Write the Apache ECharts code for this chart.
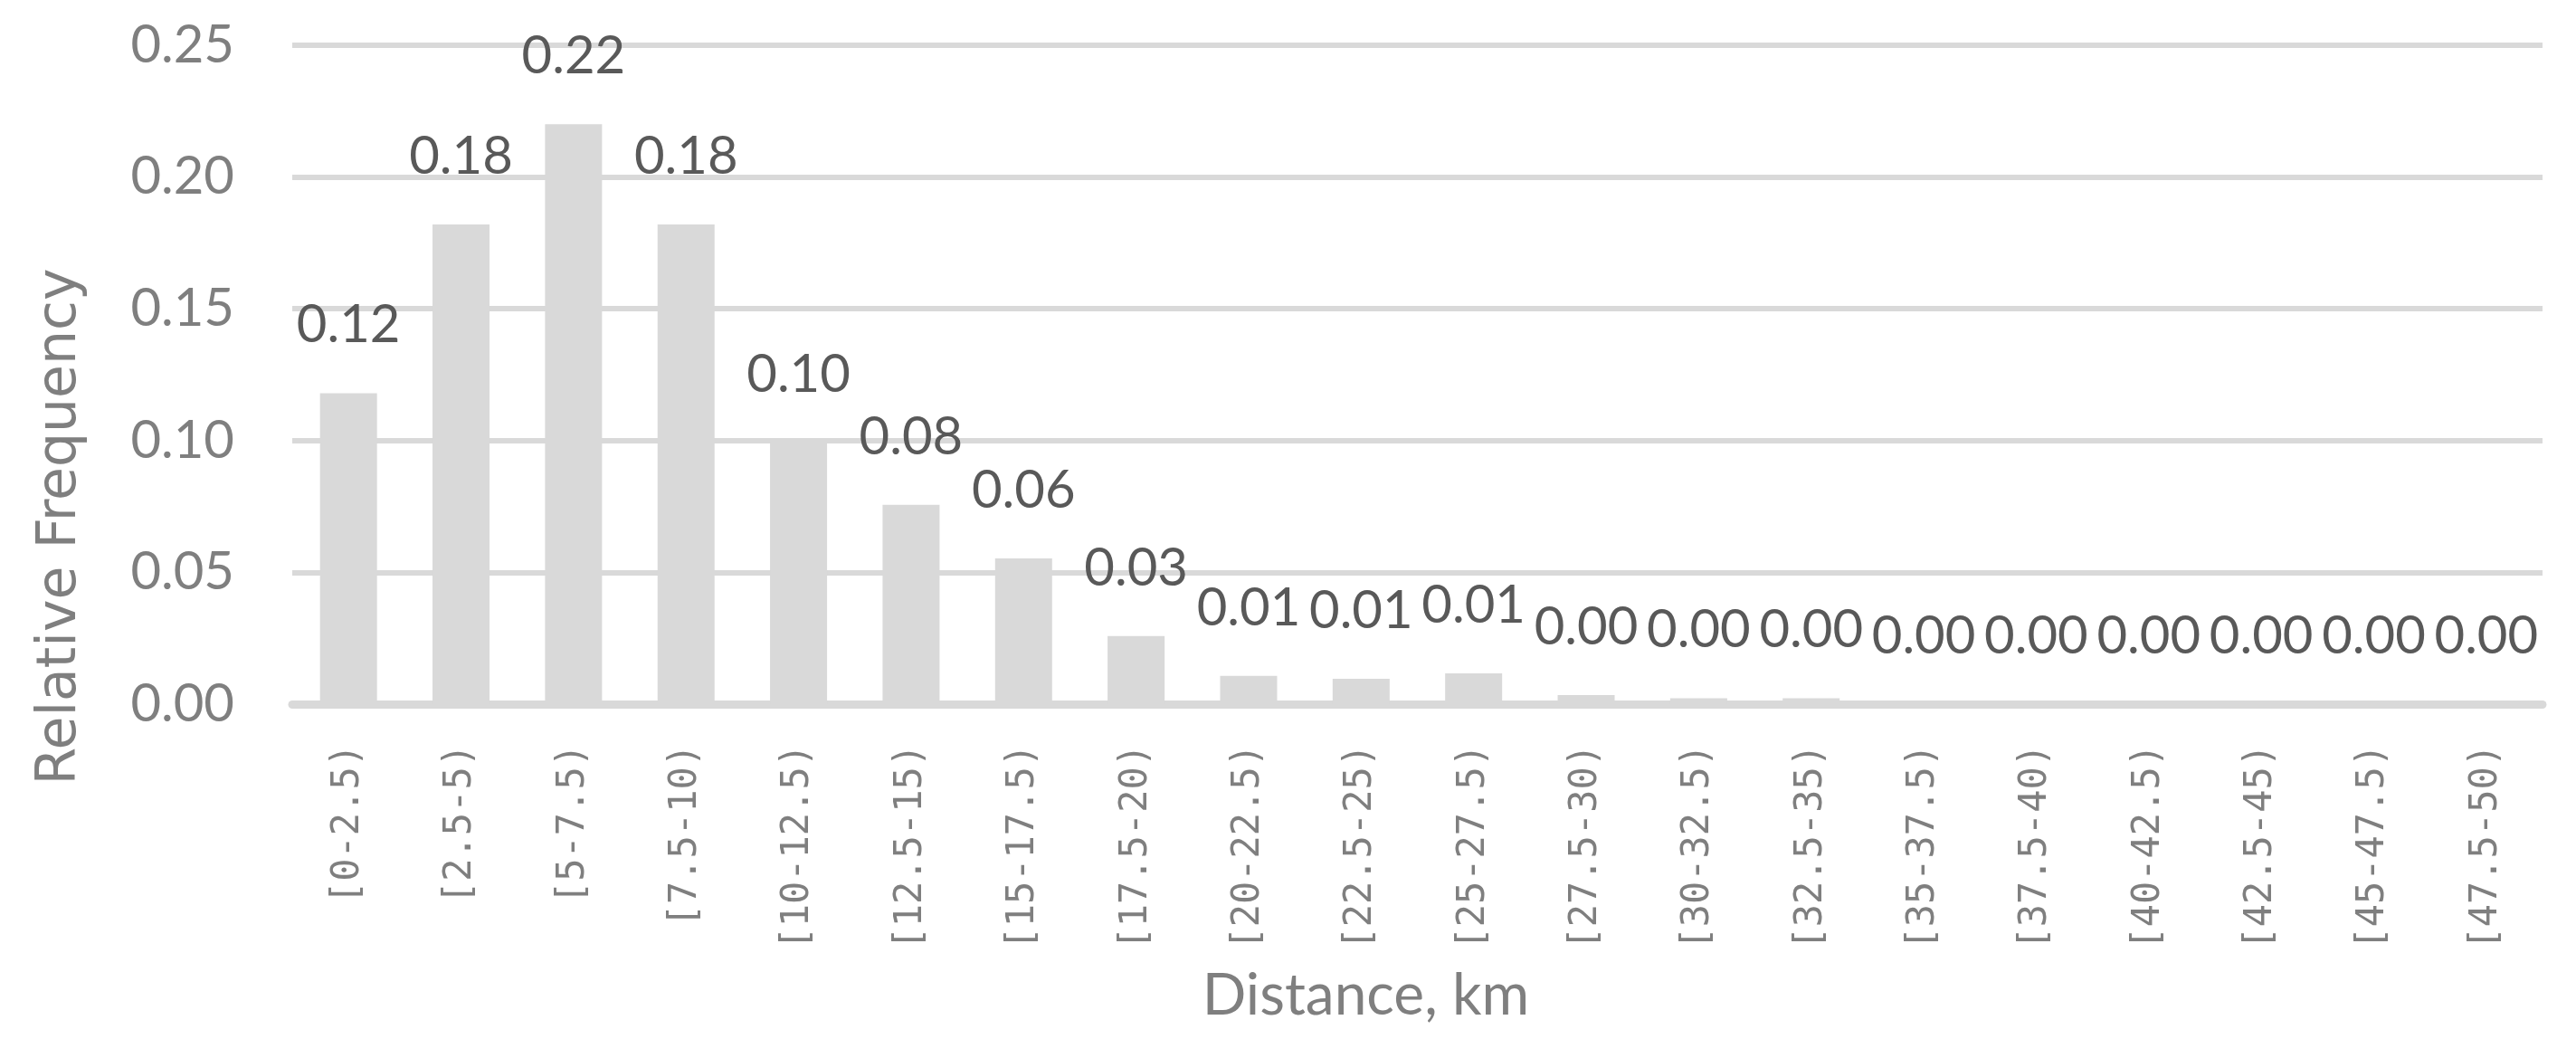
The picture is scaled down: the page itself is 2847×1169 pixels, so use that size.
<!DOCTYPE html>
<html>
<head>
<meta charset="utf-8">
<title>Relative Frequency by Distance</title>
<script src="https://cdn.jsdelivr.net/npm/echarts@6/dist/echarts.min.js"></script>
<style>
  html, body { margin: 0; padding: 0; background: #fff; }
  #chart { width: 2847px; height: 1169px; }
</style>
</head>
<body>
<div id="chart"></div>
<script>
// distance bins (km)
var categories = ['[0-2.5)', '[2.5-5)', '[5-7.5)', '[7.5-10)', '[10-12.5)', '[12.5-15)',
  '[15-17.5)', '[17.5-20)', '[20-22.5)', '[22.5-25)', '[25-27.5)', '[27.5-30)',
  '[30-32.5)', '[32.5-35)', '[35-37.5)', '[37.5-40)', '[40-42.5)', '[42.5-45)',
  '[45-47.5)', '[47.5-50)'];
// relative frequency
var relFreq = [0.118, 0.182, 0.220, 0.182, 0.099, 0.0756, 0.0553, 0.0258, 0.0107, 0.0096,
  0.0117, 0.0034, 0.0022, 0.0022, 0, 0, 0, 0, 0, 0];
var yTicks = [0, 0.05, 0.10, 0.15, 0.20, 0.25];

var gray = '#7f7f7f';
var chart = echarts.init(document.getElementById('chart'));

chart.setOption({
  animation: false,
  backgroundColor: '#ffffff',
  grid: { left: 323, right: 37, top: 50, bottom: 391, containLabel: false, outerBoundsMode: 'none' },
  xAxis: {
    type: 'category',
    data: categories,
    name: 'Distance, km',
    nameLocation: 'middle',
    nameGap: 290,
    nameTextStyle: { fontFamily: 'Lato', fontSize: 64, color: gray, padding: [0, 114, 0, 0] },
    axisLine: { lineStyle: { color: '#d9d9d9', width: 9 } },
    axisTick: { show: false },
    axisLabel: {
      interval: 0,
      rotate: 90,
      margin: 44,
      fontFamily: 'DejaVu Sans Mono',
      fontSize: 42,
      color: gray
    }
  },
  yAxis: {
    type: 'value',
    min: yTicks[0],
    max: yTicks[yTicks.length - 1],
    interval: 0.05,
    name: 'Relative Frequency',
    nameLocation: 'middle',
    nameGap: 226,
    nameTextStyle: { fontFamily: 'DejaVu Sans', fontSize: 60, color: gray, padding: [0, 336, 0, 0] },
    axisLine: { show: false },
    axisTick: { show: false },
    splitLine: { lineStyle: { color: '#d9d9d9', width: 6 } },
    axisLabel: {
      margin: 64,
      fontFamily: 'Lato',
      fontSize: 58,
      color: gray,
      formatter: function (v) { return v.toFixed(2); }
    }
  },
  series: [{
    type: 'bar',
    data: relFreq,
    barWidth: 63,
    itemStyle: { color: '#d9d9d9' },
    label: {
      show: true,
      position: 'top',
      distance: 46,
      fontFamily: 'Lato',
      fontSize: 58,
      color: '#595959',
      formatter: function (p) { return p.value.toFixed(2); }
    }
  }]
});
</script>
</body>
</html>
